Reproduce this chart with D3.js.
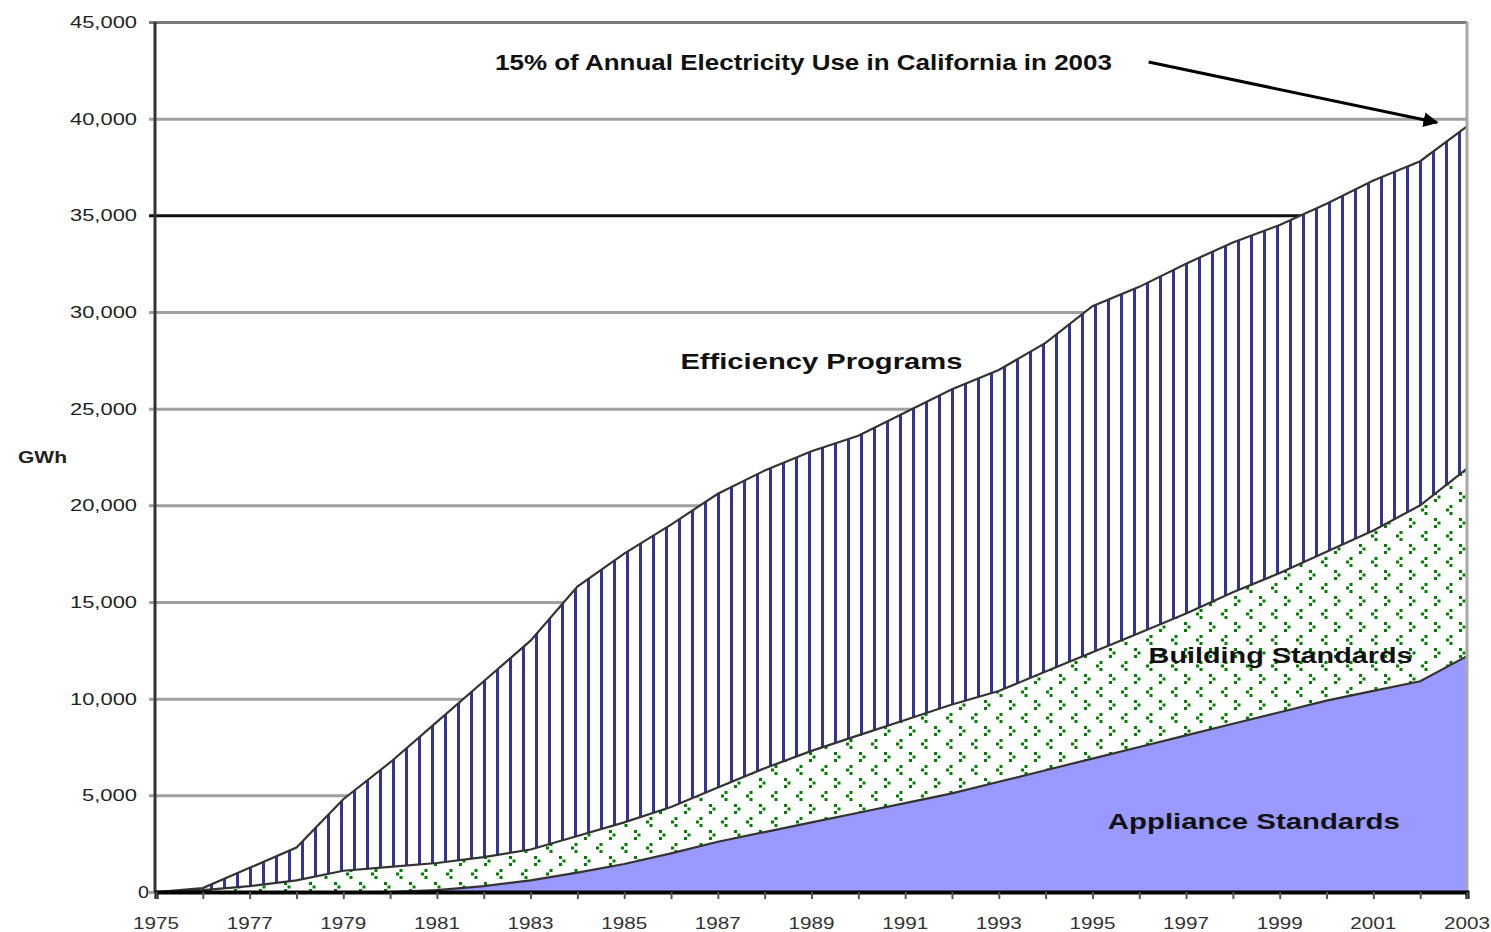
<!DOCTYPE html>
<html>
<head>
<meta charset="utf-8">
<script src="https://cdn.jsdelivr.net/npm/d3@7"></script>
<style>
  body { margin: 0; background: #fff; }
  text { font-family: "Liberation Sans", Arial, sans-serif; }
</style>
</head>
<body>
<div id="chart"></div>
<script>
// years on the x axis
var years = d3.range(1975, 2004);

// GWh saved per year
var appliance = [0, 0, 0, 0, 0, 0, 100, 300, 600, 1000, 1450, 2000, 2600, 3100, 3600,
  4100, 4600, 5100, 5700, 6300, 6900, 7500, 8100, 8700, 9300, 9900, 10400, 10900, 12200];
var building = [0, 100, 300, 600, 1100, 1300, 1400, 1500, 1600, 1900, 2150, 2400, 2800, 3300, 3700,
  4000, 4300, 4600, 4700, 5100, 5500, 5900, 6300, 6800, 7200, 7700, 8300, 9100, 9700];
var efficiency = [0, 100, 950, 1700, 3700, 5400, 7300, 9100, 10800, 12900, 13900, 14600, 15200, 15400, 15500,
  15500, 15900, 16300, 16600, 17000, 17900, 17900, 18100, 18100, 18000, 18000, 18100, 17800, 17700];

var yTicks = [0, 5000, 10000, 15000, 20000, 25000, 30000, 35000, 40000, 45000];
var xLabels = d3.range(1975, 2004, 2);

var margin = { top: 22, right: 24, bottom: 40, left: 156 };
var width = 1491 - margin.left - margin.right;
var height = 932 - margin.top - margin.bottom;

var svg = d3.select("#chart")
  .append("svg")
    .attr("width", 1491)
    .attr("height", 932);

// fill patterns
var defs = svg.append("defs");
var stripes = defs.append("pattern")
  .attr("id", "stripes")
  .attr("patternUnits", "userSpaceOnUse")
  .attr("x", 2)
  .attr("width", 13)
  .attr("height", 13);
stripes.append("rect").attr("width", 13).attr("height", 13).attr("fill", "#fff");
stripes.append("rect").attr("x", 0).attr("width", 3).attr("height", 13).attr("fill", "#333399");

// sparse green chevrons, staggered rows
var dots = defs.append("pattern")
  .attr("id", "dots")
  .attr("patternUnits", "userSpaceOnUse")
  .attr("width", 25)
  .attr("height", 26);
dots.append("rect").attr("width", 25).attr("height", 26).attr("fill", "#fff");
var chevrons = { ">": [[0, 0], [3.5, 3.5], [0, 7]], "<": [[3.5, 0], [0, 3.5], [3.5, 7]] };
[[">", 3, 2], ["<", 15, 15]].forEach(function(m) {
  chevrons[m[0]].forEach(function(p) {
    dots.append("rect")
      .attr("x", m[1] + p[0]).attr("y", m[2] + p[1])
      .attr("width", 3).attr("height", 3)
      .attr("fill", "#008000");
  });
});

var g = svg.append("g")
  .attr("transform", "translate(" + margin.left + "," + margin.top + ")");

var x = d3.scaleLinear().domain([1975, 2003]).range([0, width]);
var y = d3.scaleLinear().domain([0, 45000]).range([height, 0]);

// gridlines + y axis
var yAxis = g.append("g")
  .call(d3.axisLeft(y).tickValues(yTicks).tickSize(-width).tickFormat(d3.format(",")));
yAxis.select(".domain").remove();
yAxis.selectAll(".tick line")
  .attr("stroke", function(d) { return d == 35000 ? "#111" : (d == 45000 ? "#7a7a7a" : "#a0a0a0"); })
  .attr("stroke-width", 3)
  .attr("x1", -7);
yAxis.selectAll(".tick text")
  .attr("x", -19)
  .attr("font-size", 17)
  .attr("fill", "#222")
  .attr("textLength", function(d) { return d == 0 ? 11 : (d >= 10000 ? 67 : 55); })
  .attr("lengthAdjust", "spacingAndGlyphs");
yAxis.selectAll(".tick text").filter(function(d) { return d == 0; }).attr("x", -7);

// stacked areas
var table = years.map(function(yr, i) {
  return { year: yr, appliance: appliance[i], building: building[i], efficiency: efficiency[i] };
});
var stack = d3.stack().keys(["appliance", "building", "efficiency"]);
var layers = stack(table);
var fills = { appliance: "#9999ff", building: "url(#dots)", efficiency: "url(#stripes)" };

var area = d3.area()
  .x(function(d) { return x(d.data.year); })
  .y0(function(d) { return y(d[0]); })
  .y1(function(d) { return y(d[1]); });
var topLine = d3.line()
  .x(function(d) { return x(d.data.year); })
  .y(function(d) { return y(d[1]); });

g.selectAll(".layer")
  .data(layers)
  .enter().append("path")
    .attr("class", "layer")
    .attr("d", area)
    .attr("fill", function(d) { return fills[d.key]; });

g.selectAll(".edge")
  .data(layers)
  .enter().append("path")
    .attr("class", "edge")
    .attr("d", topLine)
    .attr("fill", "none")
    .attr("stroke", "#333")
    .attr("stroke-width", 2.2);

// plot border, right side
g.append("line")
  .attr("x1", width).attr("x2", width)
  .attr("y1", 0).attr("y2", height)
  .attr("stroke", "#a8a8a8").attr("stroke-width", 3);

// left axis line
g.append("line")
  .attr("x1", -1).attr("x2", -1)
  .attr("y1", 0).attr("y2", height)
  .attr("stroke", "#333").attr("stroke-width", 3);

// x axis
var xAxis = g.append("g")
  .attr("transform", "translate(0," + height + ")")
  .call(d3.axisBottom(x).tickValues(years).tickSize(7).tickFormat(""));
xAxis.select(".domain").attr("stroke", "#000").attr("stroke-width", 4);
xAxis.selectAll(".tick line").attr("stroke", "#555").attr("stroke-width", 2);

g.append("g").selectAll("text")
  .data(xLabels)
  .enter().append("text")
    .attr("x", function(d) { return x(d); })
    .attr("y", height + 37)
    .attr("text-anchor", "middle")
    .attr("font-size", 17)
    .attr("fill", "#333")
    .attr("textLength", 46)
    .attr("lengthAdjust", "spacingAndGlyphs")
    .text(function(d) { return d; });

// unit label
svg.append("text")
  .attr("x", 18).attr("y", 463)
  .attr("font-size", 16).attr("font-weight", "bold")
  .attr("fill", "#222")
  .attr("textLength", 49).attr("lengthAdjust", "spacingAndGlyphs")
  .text("GWh");

// layer labels
var labels = [
  { text: "Efficiency Programs", x: 1986.2, v: 27050, w: 282 },
  { text: "Building Standards", x: 1996.2, v: 11840, w: 264 },
  { text: "Appliance Standards", x: 1995.33, v: 3260, w: 292 }
];
g.selectAll(".lbl")
  .data(labels)
  .enter().append("text")
    .attr("class", "lbl")
    .attr("x", function(d) { return x(d.x); })
    .attr("y", function(d) { return y(d.v); })
    .attr("font-size", 22)
    .attr("font-weight", "bold")
    .attr("fill", "#111")
    .attr("textLength", function(d) { return d.w; })
    .attr("lengthAdjust", "spacingAndGlyphs")
    .text(function(d) { return d.text; });

// annotation + arrow
defs.append("marker")
  .attr("id", "arrow")
  .attr("viewBox", "0 0 10 10")
  .attr("refX", 9).attr("refY", 5)
  .attr("markerWidth", 5).attr("markerHeight", 5)
  .attr("orient", "auto")
  .append("path").attr("d", "M0,0L10,5L0,10z").attr("fill", "#000");

g.append("text")
  .attr("x", x(1982.24)).attr("y", y(42500))
  .attr("font-size", 22)
  .attr("font-weight", "bold")
  .attr("fill", "#111")
  .attr("textLength", 617).attr("lengthAdjust", "spacingAndGlyphs")
  .text("15% of Annual Electricity Use in California in 2003");

g.append("line")
  .attr("x1", x(1996.2)).attr("y1", y(42930))
  .attr("x2", x(2002.36)).attr("y2", y(39800))
  .attr("stroke", "#000").attr("stroke-width", 3)
  .attr("marker-end", "url(#arrow)");
</script>
</body>
</html>
